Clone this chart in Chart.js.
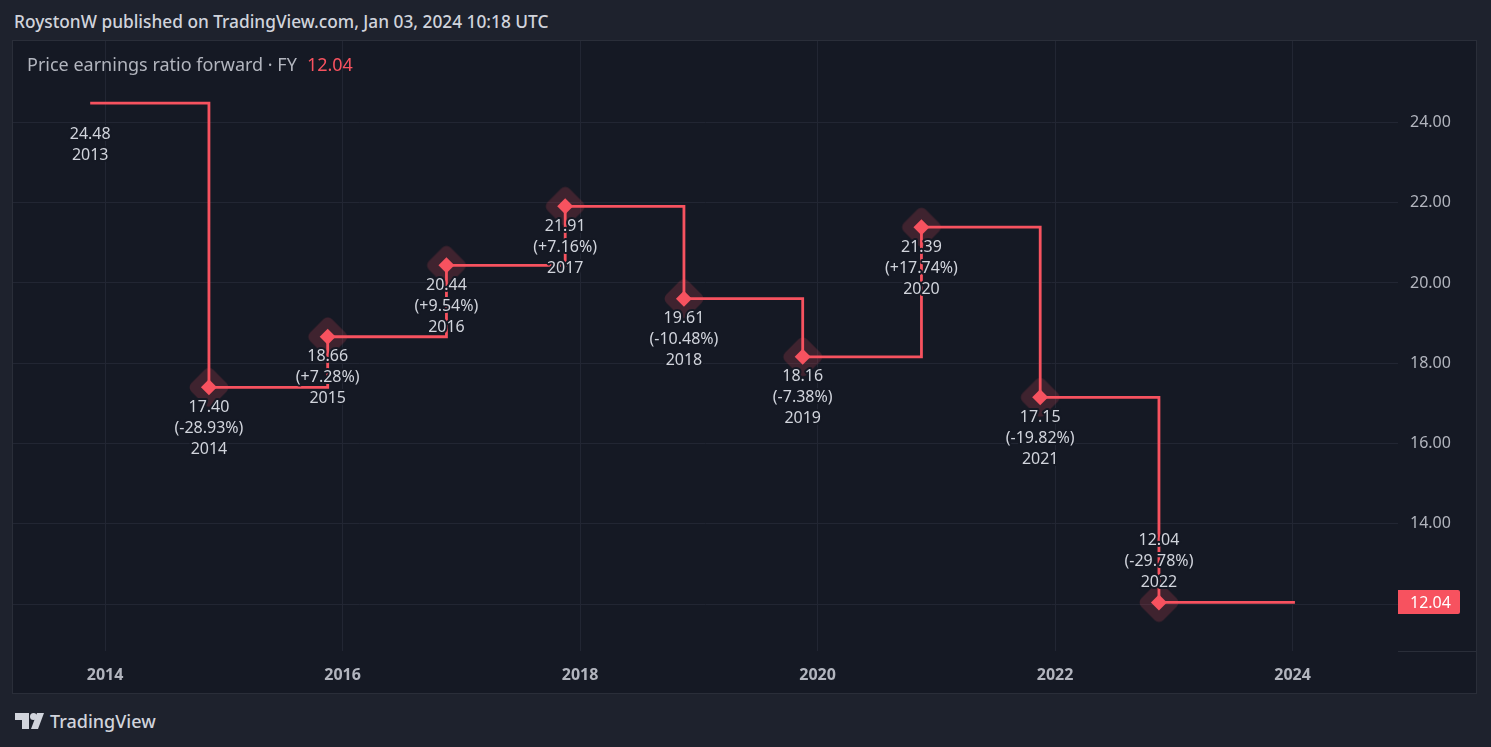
<!DOCTYPE html>
<html>
<head>
<meta charset="utf-8">
<title>Price earnings ratio forward</title>
<script src="https://cdn.jsdelivr.net/npm/chart.js@4.4.1/dist/chart.umd.min.js"></script>
<style>
  body { margin: 0; width: 1491px; height: 747px; background: #1e222d; overflow: hidden; font-family: "Noto Sans", sans-serif; }
  #title { position: absolute; left: 14px; top: 10px; font-size: 17.3px; font-weight: 500; color: #d1d4dc; white-space: nowrap; }
  #frame { position: absolute; left: 12px; top: 40px; width: 1463px; height: 652px; border: 1px solid #2a2e39; background: #151924; }
  #chart { position: absolute; left: 0; top: 0; }
  #legend { position: absolute; left: 14px; top: 11px; font-size: 18px; color: #b2b5be; white-space: nowrap; }
  #legend span { color: #f7525f; margin-left: 10px; }
  #brand { position: absolute; left: 15px; top: 709px; display: flex; align-items: center; color: #d1d4dc; font-size: 18px; font-weight: 500; }
  #brand svg { margin-right: 6px; }
</style>
</head>
<body>
<div id="title">RoystonW published on TradingView.com, Jan 03, 2024 10:18 UTC</div>
<div id="frame">
  <canvas id="chart" width="1463" height="652"></canvas>
  <div id="legend">Price earnings ratio forward · FY<span>12.04</span></div>
</div>
<div id="brand">
  <svg width="29" height="16" viewBox="0 0 29 16">
    <path d="M0 0h14v16h-7v-9h-7z" fill="#d1d4dc"/>
    <circle cx="18.5" cy="3.5" r="3.5" fill="#d1d4dc"/>
    <path d="M22 0h7l-6 16h-7z" fill="#d1d4dc"/>
  </svg>
  TradingView
</div>
<script>
// Fiscal years and forward P/E values
const fiscalYears = [2013, 2014, 2015, 2016, 2017, 2018, 2019, 2020, 2021, 2022];
const periodEnds = [2013.875, 2014.875, 2015.875, 2016.875, 2017.875, 2018.875, 2019.875, 2020.875, 2021.875, 2022.875];
const peValues = [24.48, 17.40, 18.66, 20.44, 21.91, 19.61, 18.16, 21.39, 17.15, 12.04];
const pctChanges = [null, -28.93, 7.28, 9.54, 7.16, -10.48, -7.38, 17.74, -19.82, -29.78];
const lineEnd = 2024.02;   // last value is carried forward to here
const lastValue = 12.04;

// axis ticks
const xTickYears = [2014, 2016, 2018, 2020, 2022, 2024];
const yTickValues = [12, 14, 16, 18, 20, 22, 24];

const RED = "#f7525f";
const BG = "#151924";
const FONT = "Noto Sans";

const points = periodEnds.map((x, i) => ({ x: x, y: peValues[i] }));
const linePoints = points.concat([{ x: lineEnd, y: lastValue }]);

// rounded diamond used as the soft halo behind each marker
const halo = document.createElement("canvas");
halo.width = 48;
halo.height = 48;
const hctx = halo.getContext("2d");
hctx.translate(24, 24);
hctx.rotate(Math.PI / 4);
hctx.beginPath();
hctx.roundRect(-15.5, -15.5, 31, 31, 6);
hctx.fillStyle = "rgba(247, 82, 95, 0.19)";
hctx.fill();

const fmtPct = v => "(" + (v > 0 ? "+" : "") + v.toFixed(2) + "%)";

const labelPlugin = {
  id: "pointLabels",
  afterDatasetsDraw(chart) {
    const { ctx, scales: { x, y }, chartArea } = chart;
    ctx.save();
    ctx.font = "16px '" + FONT + "'";
    ctx.textAlign = "center";
    ctx.textBaseline = "middle";
    ctx.lineJoin = "round";
    ctx.lineWidth = 4;
    ctx.strokeStyle = BG;
    ctx.fillStyle = "#d1d4dc";
    periodEnds.forEach((t, i) => {
      const px = x.getPixelForValue(t);
      const py = y.getPixelForValue(peValues[i]);
      const lines = [peValues[i].toFixed(2)];
      if (pctChanges[i] !== null) lines.push(fmtPct(pctChanges[i]));
      lines.push(String(fiscalYears[i]));
      const first = i === 0 ? 31 : 20;
      const below = py + first + 21 * (lines.length - 1) + 8 < chartArea.bottom;
      lines.forEach((txt, k) => {
        const ty = below ? py + first + 21 * k : py - 20 - 21 * (lines.length - 1 - k);
        ctx.strokeText(txt, px, ty);
        ctx.fillText(txt, px, ty);
      });
    });
    ctx.restore();
  },
  afterDraw(chart) {
    const { ctx, scales: { y }, chartArea } = chart;
    ctx.save();
    // separator in the axis corner
    ctx.strokeStyle = "#2a2e39";
    ctx.lineWidth = 1;
    ctx.beginPath();
    ctx.moveTo(chartArea.right, chartArea.bottom + 0.5);
    ctx.lineTo(chart.width, chartArea.bottom + 0.5);
    ctx.stroke();
    // last value badge
    const py = Math.round(y.getPixelForValue(lastValue));
    ctx.fillStyle = RED;
    ctx.beginPath();
    ctx.roundRect(chartArea.right, py - 12, 62, 24, [0, 2, 2, 0]);
    ctx.fill();
    ctx.fillStyle = "#ffffff";
    ctx.font = "16px '" + FONT + "'";
    ctx.textBaseline = "middle";
    ctx.textAlign = "left";
    ctx.fillText(lastValue.toFixed(2), chartArea.right + 12, py + 1);
    ctx.restore();
  }
};

const noPadding = s => {
  s.paddingTop = 0;
  s.paddingBottom = 0;
  s.paddingLeft = 0;
  s.paddingRight = 0;
};

new Chart(document.getElementById("chart"), {
  type: "line",
  data: {
    datasets: [
      {
        label: "halo",
        data: points,
        showLine: false,
        pointStyle: halo,
        pointRadius: c => (c.dataIndex === 0 ? 0 : 10),
        order: 3
      },
      {
        label: "Price earnings ratio forward",
        data: linePoints,
        stepped: true,
        borderColor: RED,
        borderWidth: 2.8,
        pointRadius: 0,
        fill: false,
        order: 2
      },
      {
        label: "markers",
        data: points,
        showLine: false,
        pointStyle: "rectRot",
        pointRadius: c => (c.dataIndex === 0 ? 0 : 8),
        backgroundColor: RED,
        borderColor: RED,
        borderWidth: 0,
        order: 1
      }
    ]
  },
  options: {
    responsive: false,
    animation: false,
    layout: { padding: 0, autoPadding: false },
    plugins: { legend: { display: false }, tooltip: { enabled: false } },
    scales: {
      x: {
        type: "linear",
        min: 2013.225,
        max: 2024.888,
        afterBuildTicks: s => { s.ticks = xTickYears.map(v => ({ value: v })); },
        afterFit: s => { s.height = 42; noPadding(s); },
        grid: { color: "#222633", drawTicks: false },
        border: { display: false },
        ticks: {
          padding: 15,
          color: "#b2b5be",
          font: { family: FONT, size: 16, weight: "bold" },
          callback: v => String(v)
        }
      },
      y: {
        position: "right",
        min: 10.83,
        max: 26.03,
        afterBuildTicks: s => { s.ticks = yTickValues.map(v => ({ value: v })); },
        afterFit: s => { s.width = 78; noPadding(s); },
        grid: { color: "#222633", drawTicks: false },
        border: { display: false },
        ticks: {
          padding: 12,
          color: "#b2b5be",
          font: { family: FONT, size: 16 },
          callback: v => v.toFixed(2)
        }
      }
    }
  },
  plugins: [labelPlugin]
});
</script>
</body>
</html>
